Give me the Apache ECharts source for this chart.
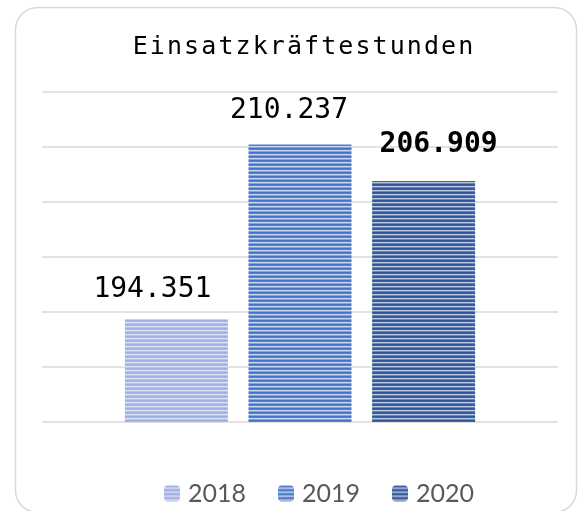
<!DOCTYPE html>
<html><head><meta charset="utf-8">
<script src="https://cdn.jsdelivr.net/npm/echarts@6/dist/echarts.min.js"></script>
<style>html,body{margin:0;padding:0;background:#fff}#c{width:583px;height:511px}</style>
</head><body><div id="c"></div>
<script>
const titleText = 'Einsatzkräftestunden';
const categories = ['Einsatzkräftestunden'];
const seriesNames = ['2018', '2019', '2020'];
const values2018 = [194351];
const values2019 = [210237];
const values2020 = [206909];
const labelTexts = ['194.351', '210.237', '206.909'];

function stripes(rows) {
  const c = document.createElement('canvas');
  c.width = 4; c.height = rows.length;
  const ctx = c.getContext('2d');
  rows.forEach((col, i) => { ctx.fillStyle = col; ctx.fillRect(0, i, 4, 1); });
  return { image: c, repeat: 'repeat' };
}
const fill2018 = stripes(['#9cade0', '#a8b7e4', '#dbe1f4', '#b8c4ea']);
const fill2019 = stripes(['#4472c4', '#5580cc', '#c9d6ef', '#86a2da']);
const fill2020 = stripes(['#2f5597', '#3e63a4', '#b9c6e0', '#7088b8']);

const spaced = titleText.split('').join('{s| }');

const chart = echarts.init(document.getElementById('c'), null, { renderer: 'canvas' });
const mono = '"DejaVu Sans Mono", monospace';
function mk(name, data, fill, labelText, offset, bold) {
  return {
    name, type: 'bar', data, barWidth: 103, barGap: '20%',
    itemStyle: { color: fill },
    label: {
      show: true, position: 'top', distance: 5, offset,
      formatter: () => labelText,
      fontFamily: mono, fontSize: 28, color: '#000',
      fontWeight: bold ? 'bold' : 'normal'
    }
  };
}
chart.setOption({
  animation: false,
  graphic: [{
    type: 'rect', left: 13, top: 5, silent: true,
    shape: { width: 561, height: 505, r: 22 },
    style: { fill: 'none', stroke: '#d9d9d9', lineWidth: 1.5 }
  }],
  title: {
    text: spaced, left: 298, top: 30, textAlign: 'center',
    textStyle: {
      fontFamily: mono, fontSize: 25, fontWeight: 'normal', color: '#000',
      rich: { s: { fontFamily: 'Noto Sans', fontSize: 8 } }
    }
  },
  legend: {
    data: seriesNames, left: 159, top: 476, itemWidth: 16, itemHeight: 16, itemGap: 32,
    textStyle: { fontFamily: 'Lato', fontSize: 25, color: '#595959', padding: [0, 0, 0, 3] }
  },
  grid: { left: 42, right: 25, top: 92, bottom: 89 },
  xAxis: { type: 'category', data: categories, show: false },
  yAxis: {
    type: 'value', min: 185000, max: 215000, interval: 5000,
    axisLabel: { show: false }, axisLine: { show: false }, axisTick: { show: false },
    splitLine: { lineStyle: { color: '#d9d9d9', width: 1.5 } }
  },
  series: [
    mk(seriesNames[0], values2018, fill2018, labelTexts[0], [-24, -10], false),
    mk(seriesNames[1], values2019, fill2019, labelTexts[1], [-11, -15], false),
    mk(seriesNames[2], values2020, fill2020, labelTexts[2], [15, -17], true)
  ]
});
</script></body></html>
